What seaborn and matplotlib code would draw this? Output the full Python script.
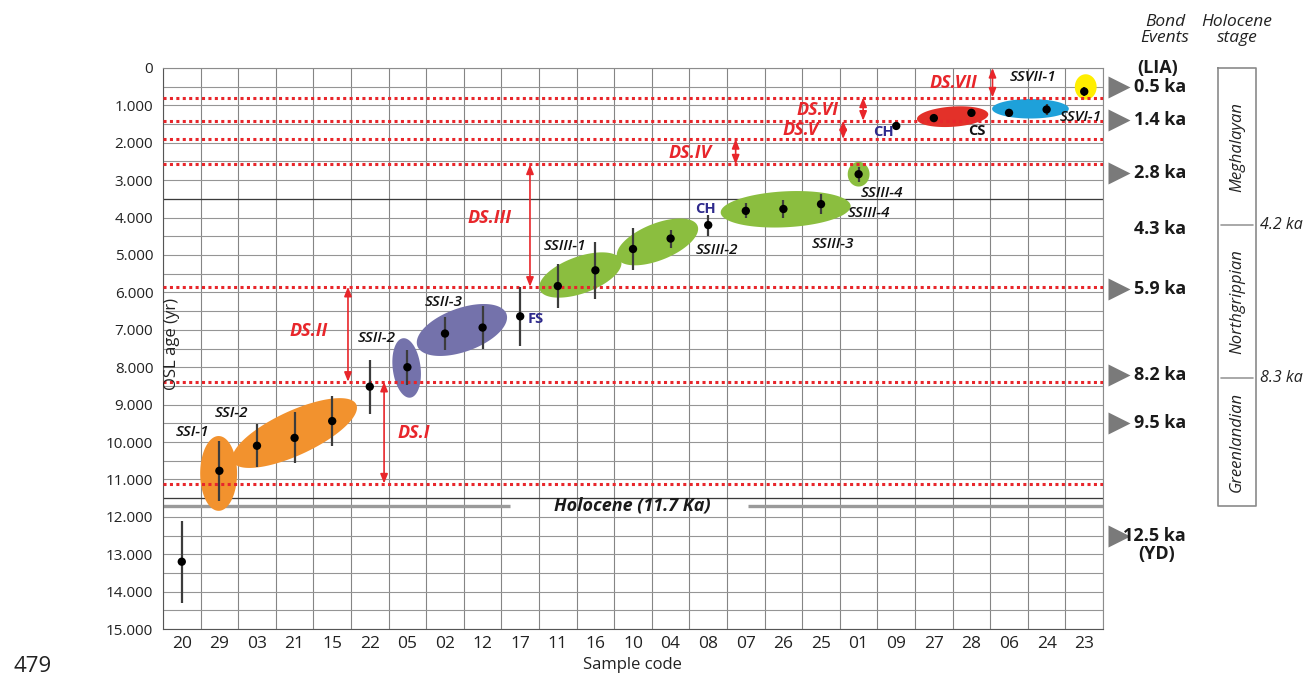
import numpy as np
import pandas as pd
import matplotlib
matplotlib.use("Agg")
import matplotlib.pyplot as plt
import matplotlib.transforms as mtransforms
from matplotlib.ticker import FuncFormatter, MultipleLocator
import seaborn as sns

# ---- OSL ages per sample (years) ----
sample_codes = ["20", "29", "03", "21", "15", "22", "05", "02", "12", "17", "11", "16", "10",
                "04", "08", "07", "26", "25", "01", "09", "27", "28", "06", "24", "23"]
osl_age = [13200, 10770, 10100, 9890, 9440, 8520, 8000, 7100, 6940, 6640, 5830, 5410, 4840,
           4560, 4200, 3820, 3770, 3640, 2840, 1550, 1340, 1200, 1200, 1110, 630]
osl_err = [1100, 800, 570, 680, 670, 720, 470, 450, 570, 790, 590, 760, 570,
           240, 280, 200, 240, 260, 200, 100, 100, 110, 60, 150, 130]

# ---- dune-stabilisation boundaries (years) and the DS intervals between them ----
ds_bounds = [790, 1410, 1900, 2580, 5850, 8390, 11110]
ds_names = ["DS.I", "DS.II", "DS.III", "DS.IV", "DS.V", "DS.VI", "DS.VII"]
ds_top = [8390, 5850, 2580, 1900, 1410, 790, 0]
ds_bottom = [11110, 8390, 5850, 2580, 1900, 1410, 790]

# ---- Bond events ----
bond_labels = ["0.5 ka", "1.4 ka", "2.8 ka", "4.3 ka", "5.9 ka", "8.2 ka", "9.5 ka", "12.5 ka"]
bond_ages = [500, 1400, 2800, 4300, 5900, 8200, 9500, 12500]
bond_marked = [True, True, True, False, True, True, True, True]

# ---- Holocene stages ----
stage_names = ["Meghalayan", "Northgrippian", "Greenlandian"]
stage_edges = [0, 4200, 8300, 11700]
stage_edge_labels = ["4.2 ka", "8.3 ka"]

RED = "#E8262B"
NAVY = "#2E2A8C"
GROUP_COLORS = {"SSI": "#F2922E", "SSII": "#7472AB", "SSIII": "#8BBE3F",
                "CS": "#E33129", "SSVI": "#1EA1DA", "SSVII": "#FFEE00"}

# sediment-unit envelopes: centre (category, years), semi-axes in cell units, tilt (deg)
envelopes = [
    ("SSI", 0.98, 10840, 0.49, 1.00, 0),
    ("SSI", 3.00, 9760, 1.81, 0.59, 25),
    ("SSII", 5.98, 8020, 0.80, 0.37, 97),
    ("SSII", 7.45, 7005, 1.26, 0.58, 20),
    ("SSIII", 10.60, 5535, 1.15, 0.49, 20),
    ("SSIII", 12.65, 4650, 1.15, 0.49, 22),
    ("SSIII", 16.06, 3778, 1.73, 0.48, 3),
    ("SSIII", 18.00, 2840, 0.29, 0.33, 0),
    ("CS", 20.50, 1302, 0.95, 0.27, 4),
    ("SSVI", 22.57, 1091, 1.02, 0.26, 0),
    ("SSVII", 24.04, 508, 0.29, 0.34, 0),
]

unit_labels = [("SSI-1", 0.28, 9725), ("SSI-2", 1.33, 9215), ("SSII-2", 5.19, 7230),
               ("SSII-3", 6.97, 6255), ("SSIII-1", 10.19, 4760), ("SSIII-2", 14.23, 4865),
               ("SSIII-3", 17.31, 4705), ("SSIII-4", 18.27, 3885), ("SSIII-4", 18.62, 3335),
               ("SSVII-1", 22.63, 250), ("SSVI-1", 23.90, 1318)]
site_labels = [("FS", 9.42, 6720, NAVY), ("CH", 13.92, 3770, NAVY),
               ("CH", 18.67, 1703, NAVY), ("CS", 21.14, 1685, "#111111")]
ds_arrow_x = [5.38, 4.42, 9.26, 14.73, 17.59, 18.12, 21.56]
ds_label_pos = [(6.17, 9750), (3.38, 7030), (8.19, 4010), (13.52, 2265),
                (16.46, 1660), (16.90, 1123), (20.53, 393)]

sns.set_theme(style="white")
plt.rcParams["font.family"] = ["Open Sans", "DejaVu Sans"]

df = pd.DataFrame({"code": sample_codes, "age": osl_age, "err": osl_err})
df["pos"] = np.arange(len(df))

fig = plt.figure(figsize=(13.08, 6.75), dpi=100)
fig.patch.set_facecolor("white")
ax = fig.add_axes([0.1246, 0.0681, 0.7187, 0.8312])
ax.set_facecolor("white")

ax.set_xlim(-0.5, len(df) - 0.5)
ax.set_ylim(15000, 0)

# grid
ax.set_xticks(df["pos"])
ax.set_xticklabels(df["code"], fontsize=12.5, color="#222222")
ax.set_xticks(np.arange(-0.5, len(df), 1), minor=True)
ax.yaxis.set_major_locator(MultipleLocator(1000))
ax.yaxis.set_minor_locator(MultipleLocator(500))
ax.yaxis.set_major_formatter(FuncFormatter(lambda v, p: f"{int(v):,}".replace(",", ".")))
ax.tick_params(axis="y", which="major", length=4, width=0.8, color="#555555",
               labelsize=11, labelcolor="#222222", pad=3)
ax.tick_params(axis="y", which="minor", length=0)
ax.tick_params(axis="x", which="major", length=0, pad=5)
ax.tick_params(axis="x", which="minor", length=4, width=0.8, color="#777777")
ax.grid(which="minor", axis="x", color="#858585", lw=0.8, zorder=0)
ax.grid(which="both", axis="y", color="#959595", lw=0.8, zorder=0)
ax.set_axisbelow(True)
for side, sp in ax.spines.items():
    sp.set_color("#8c8c8c" if side in ("top", "right") else "#555555")
    sp.set_linewidth(0.8)

ax.axhline(3500, color="#3a3a3a", lw=0.9, zorder=1)
ax.axhline(11500, color="#3a3a3a", lw=0.9, zorder=1)

# Holocene onset line with its label
ax.plot([-0.5, 8.72], [11700, 11700], color="#9a9a9a", lw=2.4, zorder=2, solid_capstyle="butt")
ax.plot([15.05, 24.5], [11700, 11700], color="#9a9a9a", lw=2.4, zorder=2, solid_capstyle="butt")
ax.text(11.98, 11710, "Holocene (11.7 Ka)", ha="center", va="center", fontsize=13,
        fontweight="bold", fontstyle="italic", color="#1a1a1a", zorder=3)

# envelopes
def envelope_outline(cx, cy, a, b, ang, n=240):
    t = np.linspace(0, 2 * np.pi, n)
    th = np.deg2rad(ang)
    u = a * np.cos(t) * np.cos(th) - b * np.sin(t) * np.sin(th)
    v = a * np.cos(t) * np.sin(th) + b * np.sin(t) * np.cos(th)
    return cx + u, cy - v * 1000

for grp, cx, cy, a, b, ang in envelopes:
    ex, ey = envelope_outline(cx, cy, a, b, ang)
    ax.fill(ex, ey, color=GROUP_COLORS[grp], lw=0, zorder=2)

# DS boundaries
for yb in ds_bounds:
    ax.axhline(yb, color=RED, lw=2.2, ls=(0, (1, 1.1)), zorder=3)

# DS intervals
for name, xa, top, bot, (lx, ly) in zip(ds_names, ds_arrow_x, ds_top, ds_bottom, ds_label_pos):
    ax.annotate("", xy=(xa, top), xytext=(xa, bot),
                arrowprops=dict(arrowstyle="<|-|>,head_length=0.55,head_width=0.22",
                                color=RED, lw=1.2, shrinkA=0, shrinkB=0, mutation_scale=10),
                zorder=4)
    ax.text(lx, ly, name, ha="center", va="center", fontsize=13, fontweight="bold",
            fontstyle="italic", color=RED, zorder=4)

# OSL ages with uncertainties
ax.errorbar(df["pos"], df["age"], yerr=df["err"], fmt="none", ecolor="#3c3c3c",
            elinewidth=1.6, capsize=0, zorder=5)
sns.scatterplot(data=df, x="pos", y="age", color="black", s=36, edgecolor="none",
                zorder=6, ax=ax, legend=False)
ax.set_xlabel("")
ax.set_ylabel("")

for txt, x, y in unit_labels:
    ax.text(x, y, txt, ha="center", va="center", fontsize=11, fontstyle="italic",
            fontweight="semibold", color="#111111", zorder=7)
for txt, x, y, c in site_labels:
    ax.text(x, y, txt, ha="center", va="center", fontsize=10.5, fontweight="bold",
            color=c, zorder=7)

ax.text(0.0096, 7380, "OSL age (yr)", transform=mtransforms.blended_transform_factory(ax.transAxes, ax.transData),
        rotation=90, ha="center", va="center", fontsize=12, color="#222222", zorder=7)

# Bond events (right margin)
btr = mtransforms.blended_transform_factory(ax.transAxes, ax.transData)
for lab, age, mk in zip(bond_labels, bond_ages, bond_marked):
    if mk:
        ax.plot([1.017], [age], marker=">", ms=15.5, color="#7a7a7a", mec="none",
                transform=btr, clip_on=False)
    ax.text(1.0883, age, lab, transform=btr, ha="right", va="center", fontsize=13,
            fontweight="bold", color="#1a1a1a", clip_on=False)
ax.text(1.036, 0, "(LIA)", transform=btr, ha="left", va="center", fontsize=13,
        fontweight="bold", color="#1a1a1a", clip_on=False)
ax.text(1.0575, 13000, "(YD)", transform=btr, ha="center", va="center", fontsize=13,
        fontweight="bold", color="#1a1a1a", clip_on=False)

# Holocene stage column
x0, x1 = 1.1227, 1.1624
ax.plot([x0, x1, x1, x0, x0], [stage_edges[0], stage_edges[0], stage_edges[-1], stage_edges[-1], stage_edges[0]],
        color="#8a8a8a", lw=1.2, transform=btr, clip_on=False)
for edge, elab in zip(stage_edges[1:-1], stage_edge_labels):
    ax.plot([x0 + 0.003, x1 - 0.003], [edge, edge], color="#9a9a9a", lw=1.2,
            transform=btr, clip_on=False)
    ax.text(1.1665, edge, elab, transform=btr, ha="left", va="center", fontsize=11.5,
            fontstyle="italic", color="#222222", clip_on=False)
for name, lo, hi in zip(stage_names, stage_edges[:-1], stage_edges[1:]):
    ax.text((x0 + x1) / 2, (lo + hi) / 2, name, transform=btr, rotation=90, ha="center",
            va="center", fontsize=12, fontstyle="italic", color="#222222", clip_on=False)

# headers and labels in figure coordinates
fig.text(1165 / 1308, 1 - 29.5 / 675, "Bond\nEvents", ha="center", va="center",
         fontsize=12.5, fontstyle="italic", color="#222222", linespacing=1.0)
fig.text(1237 / 1308, 1 - 29.5 / 675, "Holocene\nstage", ha="center", va="center",
         fontsize=12.5, fontstyle="italic", color="#222222", linespacing=1.0)
fig.text(632 / 1308, 1 - 665 / 675, "Sample code", ha="center", va="center",
         fontsize=12, color="#222222")
fig.text(14 / 1308, 1 - 666 / 675, "479", ha="left", va="center", fontsize=16,
         color="#222222")

fig.savefig("out.png", dpi=100, facecolor="white")
